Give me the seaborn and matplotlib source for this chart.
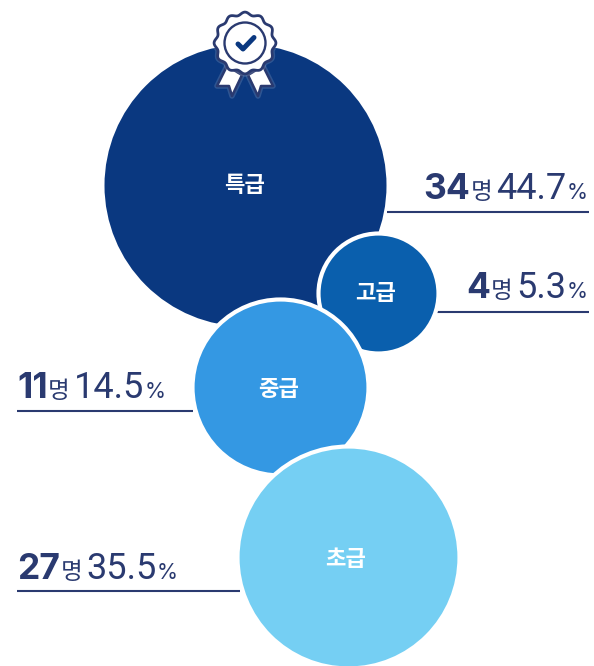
import numpy as np
import pandas as pd
import seaborn as sns
import matplotlib
matplotlib.use("Agg")
import matplotlib.pyplot as plt
import matplotlib.patheffects as pe
from matplotlib.patches import Polygon, Circle

grades = ["특급", "고급", "중급", "초급"]
counts = [34, 4, 11, 27]
percents = [44.7, 5.3, 14.5, 35.5]

# layout (pixels)
W, H = 594, 666
cx = [245, 377.5, 279.5, 347.5]
cy = [185, 293, 387, 557]
radius = [141, 60, 88, 111]
colors = ["#0A3880", "#0A5FAD", "#3498E3", "#75CFF3"]
label_y = [199, 298, 398, 579]
label_dx = [-0.5, -1.5, -0.5, -1.5]
label_dy = [1, 1, 2, 2]
rule_y = [212, 311.5, 411, 591]
rule_x = [(387, 589), (437, 589), (17, 193), (17, 240)]
NAVY = "#2A3A70"
KR = "Noto Sans CJK KR"

sns.set_theme(style="white")
plt.rcParams["font.family"] = [KR, "DejaVu Sans"]

fig = plt.figure(figsize=(W / 100, H / 100), dpi=100)
ax = fig.add_axes([0, 0, 1, 1])
df = pd.DataFrame({"grade": grades, "x": cx, "y": cy, "r": radius})
for i, row in df.iterrows():
    d_pt = 2 * row.r * 72 / 100
    sns.scatterplot(x=[row.x], y=[row.y], s=d_pt ** 2, color=colors[i],
                    edgecolor="white" if i else colors[i],
                    linewidth=3 if i else 0, ax=ax, legend=False,
                    zorder=2 + i, clip_on=False)
    ax.text(row.x + label_dx[i], row.y + label_dy[i], row.grade, color="white", fontsize=16,
            fontweight="bold", ha="center", va="center", zorder=10)
ax.set_xlim(0, W)
ax.set_ylim(H, 0)
ax.axis("off")

renderer = fig.canvas.get_renderer()


def place(parts, x, y, align):
    """Lay out (text, size, weight, family, gap) pieces along a shared baseline."""
    items = [ax.text(0, y, t, fontsize=s, fontweight=w, fontfamily=fam, color=NAVY,
                     ha="left", va="baseline", zorder=12) for t, s, w, fam, g in parts]
    widths = [a.get_window_extent(renderer).width for a in items]
    gaps = [p[4] for p in parts]
    total = sum(widths) + sum(gaps)
    pos = x if align == "left" else x - total
    for a, wd, g in zip(items, widths, gaps):
        a.set_x(pos)
        pos += wd + g


for i in range(4):
    parts = [(str(counts[i]), 25.5, "bold", "Inter", 0.5),
             ("명", 17, "normal", KR, 4),
             (f"{percents[i]:.1f}", 26, "normal", "Roboto", 0.5),
             ("%", 15.5, "normal", "Inter", 0)]
    if i < 2:
        place(parts, 588, label_y[i], "right")
    else:
        place(parts, 17, label_y[i], "left")
    ax.plot(rule_x[i], [rule_y[i]] * 2, color=NAVY, lw=1.5, zorder=1, solid_capstyle="butt")

# award badge
bx, by = 245, 43
Z = 20
ribbon_l = [(-18, 23), (-28, 43), (-16, 43), (-13, 53), (-3, 32)]
ribbon_r = [(18, 23), (28, 43), (16, 43), (13, 53), (3, 32)]
glow = [pe.withStroke(linewidth=4, foreground="white", alpha=0.15)]
for rib in (ribbon_l, ribbon_r):
    ax.add_patch(Polygon([(bx + a, by + b) for a, b in rib], closed=True, fc="white", ec=NAVY,
                         lw=1.8, joinstyle="round", zorder=Z, path_effects=glow))
t = np.linspace(0, 2 * np.pi, 721)
rs = 29.5 + 1.4 * np.cos(12 * t)
ax.fill(bx + rs * np.cos(t), by + rs * np.sin(t), fc="white", ec=NAVY, lw=2, zorder=Z + 1,
        path_effects=glow)
ax.add_patch(Circle((bx, by), 20.5, fc="white", ec=NAVY, lw=1.7, zorder=Z + 2))
ax.plot([bx - 7, bx - 2, bx + 9], [by + 1, by + 6, by - 5.5], color="#0A3880", lw=3.6,
        solid_capstyle="round", solid_joinstyle="round", zorder=Z + 3)

fig.savefig("out.png", dpi=100, facecolor="white")
